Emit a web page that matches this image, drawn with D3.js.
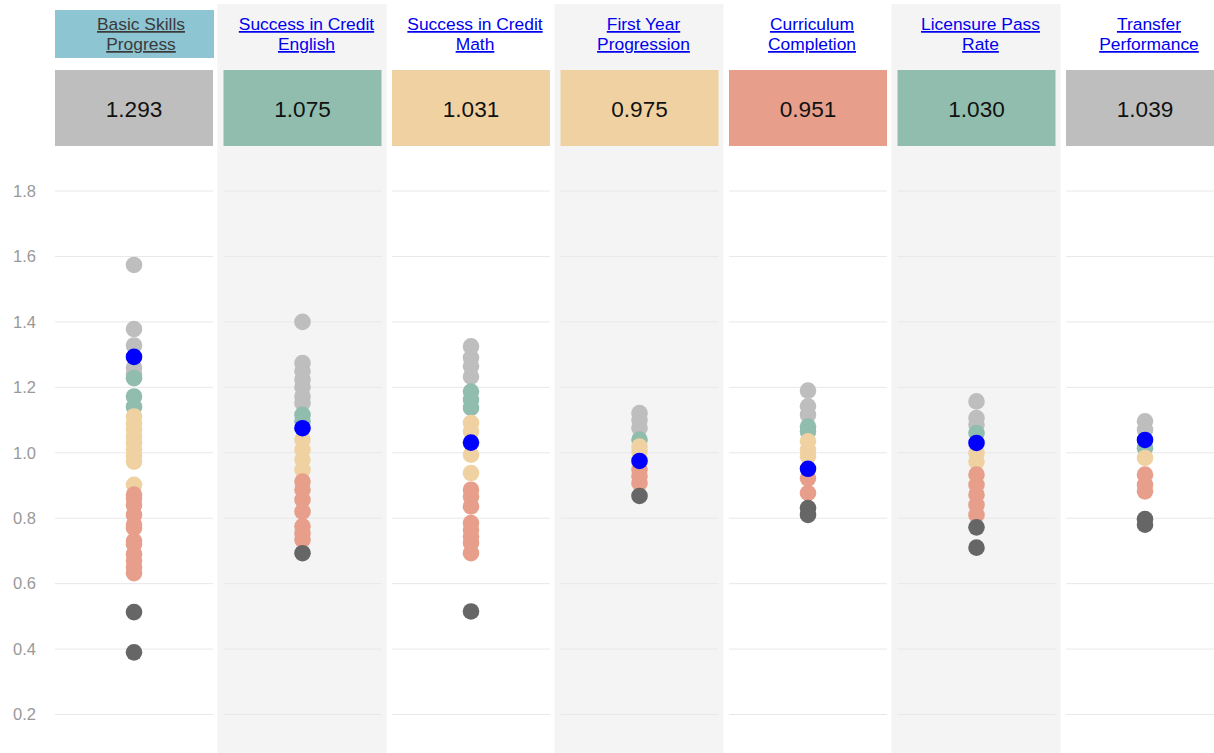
<!DOCTYPE html>
<html>
<head>
<meta charset="utf-8">
<script src="https://cdn.jsdelivr.net/npm/d3@7"></script>
<style>
  body { margin: 0; background: #fff; }
  svg text { font-family: "Liberation Sans", Arial, sans-serif; }
</style>
</head>
<body>
<div id="chart"></div>
<script>
// measures (column titles, two lines each)
const measures = [
    ["Basic Skills", "Progress"],
    ["Success in Credit", "English"],
    ["Success in Credit", "Math"],
    ["First Year", "Progression"],
    ["Curriculum", "Completion"],
    ["Licensure Pass", "Rate"],
    ["Transfer", "Performance"]
];
const selectedValues = [1.293, 1.075, 1.031, 0.975, 0.951, 1.030, 1.039];
const selectedGroup = ["top", "high", "mid", "mid", "low", "high", "top"];
const activeMeasure = 0;
const yTicks = [0.2, 0.4, 0.6, 0.8, 1.0, 1.2, 1.4, 1.6, 1.8];

// peer values per measure, grouped by quintile band
const topValues = [
    [1.574, 1.378, 1.328, 1.26, 1.24],
    [1.40, 1.274, 1.249, 1.223, 1.20, 1.172, 1.152],
    [1.325, 1.29, 1.264, 1.233],
    [1.121, 1.10, 1.075],
    [1.19, 1.142, 1.116],
    [1.157, 1.106, 1.086],
    [1.096, 1.07]
];
const highValues = [
    [1.228, 1.172, 1.14],
    [1.116, 1.096],
    [1.187, 1.162, 1.137],
    [1.04],
    [1.08, 1.065],
    [1.06],
    [1.014]
];
const midValues = [
    [1.111, 1.09, 1.07, 1.05, 1.03, 1.01, 0.99, 0.973, 0.902],
    [1.04, 1.009, 0.979, 0.948],
    [1.091, 1.065, 0.994, 0.938],
    [1.019, 1.004],
    [1.035, 1.009, 0.989],
    [0.999, 0.973],
    [0.984]
];
const lowValues = [
    [0.872, 0.86, 0.84, 0.81, 0.78, 0.77, 0.73, 0.72, 0.69, 0.67, 0.65, 0.632],
    [0.912, 0.887, 0.856, 0.82, 0.775, 0.754, 0.734],
    [0.887, 0.866, 0.836, 0.785, 0.765, 0.744, 0.724, 0.693],
    [0.948, 0.928, 0.907],
    [0.922, 0.877],
    [0.933, 0.902, 0.872, 0.841, 0.81],
    [0.933, 0.902, 0.882]
];
const bottomValues = [
    [0.513, 0.39],
    [0.693],
    [0.515],
    [0.868],
    [0.831, 0.81],
    [0.772, 0.71],
    [0.797, 0.78]
];

const groupColor = {
    top: "#bebebe",
    high: "#90bdad",
    mid: "#f0d2a2",
    low: "#e79f8b",
    bottom: "#666666"
};

const width = 1214, height = 753;

const svg = d3.select("#chart")
    .append("svg")
    .attr("width", width)
    .attr("height", height);

const x = d3.scaleBand()
    .domain(d3.range(measures.length))
    .range([55, 1224])
    .paddingInner(0.0623)
    .paddingOuter(0);

const y = d3.scaleLinear()
    .domain([0.2, 1.8])
    .range([714.5, 191]);

const bw = x.bandwidth();

// alternating shaded column backgrounds
svg.selectAll("rect.shade")
    .data(d3.range(measures.length).filter(i => i % 2 === 1))
    .join("rect")
    .attr("class", "shade")
    .attr("x", i => x(i) - 6)
    .attr("y", 4)
    .attr("width", bw + 11)
    .attr("height", height - 4)
    .attr("fill", "#f4f4f4");

// y tick labels
svg.selectAll("text.ytick")
    .data(yTicks)
    .join("text")
    .attr("class", "ytick")
    .attr("x", 36)
    .attr("y", d => y(d))
    .attr("dy", "0.35em")
    .attr("text-anchor", "end")
    .attr("fill", "#999")
    .style("font-size", "16.5px")
    .text(d3.format(".1f"));

const cols = svg.selectAll("g.col")
    .data(measures)
    .join("g")
    .attr("class", "col")
    .attr("transform", (d, i) => `translate(${x(i)},0)`);

// gridlines inside each column
cols.selectAll("line.grid")
    .data(yTicks)
    .join("line")
    .attr("class", "grid")
    .attr("x1", 0)
    .attr("x2", bw)
    .attr("y1", d => y(d))
    .attr("y2", d => y(d))
    .attr("stroke", "#e8e8e8")
    .attr("stroke-width", 1);

// title box for the active measure
cols.filter((d, i) => i === activeMeasure)
    .append("rect")
    .attr("x", 0)
    .attr("y", 10)
    .attr("width", bw + 1)
    .attr("height", 48)
    .attr("fill", "#8ec5d3");

cols.each(function (d, i) {
    const shift = i === activeMeasure ? 7 : 4;
    const t = d3.select(this).append("text")
        .attr("text-anchor", "middle")
        .attr("fill", i === activeMeasure ? "#3a3a3a" : "#0000ee")
        .style("font-size", "17.4px")
        .style("text-decoration", "underline");
    d.forEach((line, k) => {
        t.append("tspan")
            .attr("x", bw / 2 + shift)
            .attr("y", 30 + k * 20)
            .text(line);
    });
});

// value boxes
cols.append("rect")
    .attr("x", 0)
    .attr("y", 70)
    .attr("width", bw)
    .attr("height", 76)
    .attr("fill", (d, i) => groupColor[selectedGroup[i]]);

cols.append("text")
    .attr("x", bw / 2)
    .attr("y", 109)
    .attr("dy", "0.35em")
    .attr("text-anchor", "middle")
    .attr("fill", "#111")
    .style("font-size", "22.6px")
    .text((d, i) => d3.format(".3f")(selectedValues[i]));

// peer dots
const groups = [
    ["top", topValues],
    ["high", highValues],
    ["mid", midValues],
    ["low", lowValues],
    ["bottom", bottomValues]
];

cols.each(function (d, i) {
    const pts = [];
    groups.forEach(([g, arr]) => arr[i].forEach(v => pts.push({ g, v })));
    d3.select(this).selectAll("circle.peer")
        .data(pts)
        .join("circle")
        .attr("class", "peer")
        .attr("cx", bw / 2)
        .attr("cy", p => y(p.v))
        .attr("r", 8.3)
        .attr("fill", p => groupColor[p.g]);
});

// selected institution
cols.append("circle")
    .attr("cx", bw / 2)
    .attr("cy", (d, i) => y(selectedValues[i]))
    .attr("r", 8.3)
    .attr("fill", "#0000ff");
</script>
</body>
</html>
